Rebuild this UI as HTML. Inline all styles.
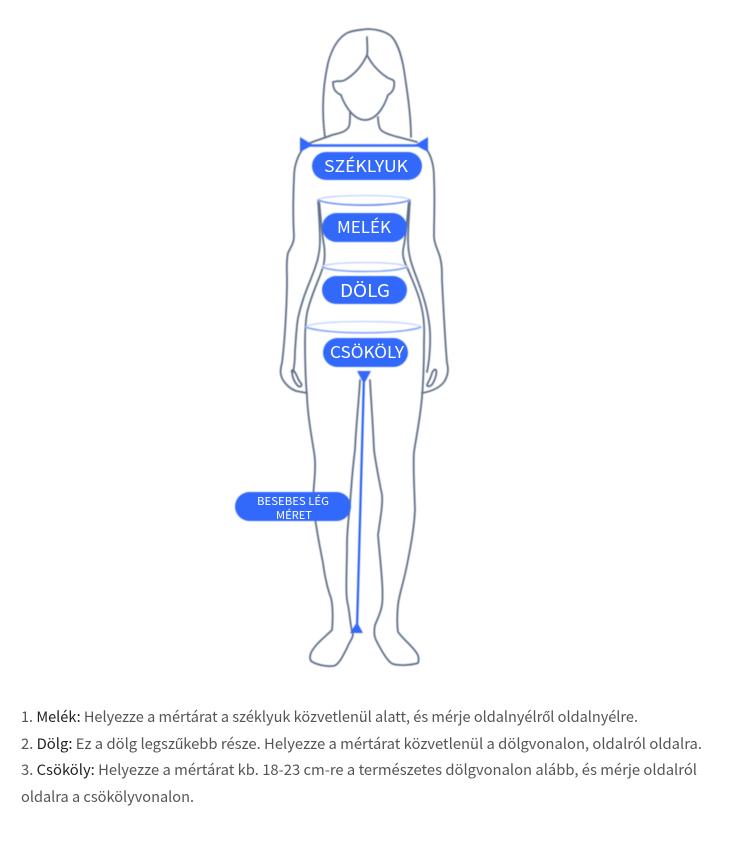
<!DOCTYPE html>
<html><head><meta charset="utf-8"><style>
html,body{margin:0;padding:0;background:#fff;width:734px;height:841px;overflow:hidden}
svg{display:block}
.b{fill:none;stroke:#5f6f88;stroke-width:1.8;stroke-linecap:round;stroke-linejoin:round}
.p{fill:#3269fb}
.l{fill:#fff;font-family:"Noto Sans CJK SC","Liberation Sans",sans-serif;text-anchor:middle}
.t{fill:#555;font-family:"Noto Sans CJK SC","Liberation Sans",sans-serif;font-size:14.5px}
.k{fill:#222}
</style></head><body>
<svg width="734" height="841" viewBox="0 0 734 841" xmlns="http://www.w3.org/2000/svg">
<defs><filter id="s" x="-5%" y="-5%" width="110%" height="110%"><feGaussianBlur stdDeviation="0.45"/></filter></defs>
<g filter="url(#s)">
<path class="b" d="M325 137C322 115 322 90 328 63C332 48 338 38 347 33C353 30 361 30 367 29C375 29 386 31 392 37C398 44 402 58 404 70C407 90 411 115 411 137"/>
<path class="b" d="M367 37C367 44 368 50 367 55C362 66 355 74 345 80C341 82 339 81 338 81L333 82C333 87 334 92 341 95C344 104 350 113 356 117C362 121 368 121 374 117C381 112 385 104 388 95C393 92 395 87 394 81C392 79 390 79 388 78C380 73 372 65 367 55"/>
<path class="b" d="M350 113C350 120 350 126 348 128C345 132 340 133 332 135C325 138 317 140 310 143"/>
<path class="b" d="M378 117C378 122 379 128 381 130C384 133 390 135 398 137L417 142"/>
<path class="b" d="M302 150C298 156 294 165 294 178C293 200 293 220 294 236C294 244 290 248 288 253C286 262 287 270 287 280C287 300 285 340 282 363C280 370 280 375 283 380C286 385 291 389 296 391L307 393"/>
<path class="b" d="M292 372C292 376 294 382 298 386C301 388 303 385 300 382C297 378 296 372 293 370C292 370 291 371 292 372Z"/>
<path class="b" d="M427 150C431 156 434 165 434 178C435 200 434 220 434 236C434 244 438 250 440 257C442 265 442 270 442 280C443 300 445 340 447 363C449 370 448 376 444 382C440 387 434 391 422 393"/>
<path class="b" d="M436 370C437 372 436 378 433 383C431 387 427 387 427 385C428 382 431 378 432 373C433 370 435 369 436 370Z"/>
<path class="b" d="M318 200C319 215 320 230 320 240C320 250 318 260 315 268C311 280 303 295 298 318C296 330 296 340 295 350C295 360 294 368 293 372"/>
<path class="b" d="M410 200C409 215 408 230 408 240C408 250 410 260 413 268C418 282 426 300 429 322C431 335 430 350 429 360C428 365 428 368 427 372"/>
<path class="b" d="M319 200C321 220 322 235 324 245C325 252 325 260 323 267C319 280 311 295 307 313C305 325 305 335 305 343C305 365 306 385 307 397C308 420 312 438 314 452C316 462 315 475 314 485C313 495 313 505 315 518C317 532 320 548 323 563C325 578 328 590 331 598C333 606 333 620 332 630C326 636 318 642 314 648C310 653 309 658 311 661C315 664 325 667 333 666C338 666 343 656 347 648C349 642 352 640 353 635C350 625 350 615 348 605C345 595 347 570 347 545C347 530 349 515 350 505C351 490 353 465 355 450C356 425 359 400 360 380"/>
<path class="b" d="M409 200C407 220 406 235 404 245C402 252 403 260 407 267C412 280 420 295 423 315C425 328 424 335 424 343C424 365 423 385 422 397C420 420 416 438 414 452C413 465 414 480 415 510C414 530 410 550 407 565C403 585 399 595 398 605C397 615 397 625 398 632C404 640 412 646 416 652C419 656 419 660 418 663C412 665 400 666 393 664C388 662 382 652 376 640C374 636 374 630 375 625C378 618 381 612 382 605C384 590 380 560 378 535C380 520 383 505 382 495C379 480 376 465 374 450C373 425 371 400 370 380"/>
<ellipse cx="364" cy="200" rx="46" ry="4.5" fill="none" stroke="#c9d8fd" stroke-width="1.6"/>
<path d="M318 200C335 207 393 207 410 200" fill="none" stroke="#4a78f5" stroke-width="1.2"/>
<ellipse cx="364.500" cy="267" rx="42.500" ry="4.500" fill="none" stroke="#c9d8fd" stroke-width="1.6"/>
<path d="M322 267C340 273 390 273 407 267" fill="none" stroke="#7c9df5" stroke-width="1.2"/>
<ellipse cx="363.500" cy="327" rx="57.500" ry="5.500" fill="none" stroke="#c9d8fd" stroke-width="1.6"/>
<path d="M306 327C330 335 397 335 421 327" fill="none" stroke="#7c9df5" stroke-width="1.2"/>
<line x1="305" y1="145.500" x2="423" y2="145.500" stroke="#3269fb" stroke-width="2.500"/>
<polygon class="p" points="300,137 300,152 313,145"/>
<polygon class="p" points="428,137 428,152 415,145"/>
<line x1="364" y1="376" x2="357" y2="628" stroke="#2a62fb" stroke-width="2.200"/>
<polygon class="p" points="357,371 371,371 364,384"/>
<polygon class="p" points="357,622 350,633 363,633"/>
<rect class="p" x="312" y="152" width="110" height="28" rx="14"/>
<rect class="p" x="322" y="213" width="85" height="29" rx="14.500"/>
<rect class="p" x="322" y="276" width="85" height="28" rx="14"/>
<rect class="p" x="323" y="338" width="85" height="29" rx="14.500"/>
<rect class="p" x="235" y="492" width="116" height="29" rx="14.500"/>
</g>
<text class="l" x="366" y="172" font-size="16" textLength="84" lengthAdjust="spacingAndGlyphs">SZÉKLYUK</text>
<text class="l" x="364" y="233" font-size="16" textLength="54" lengthAdjust="spacingAndGlyphs">MELÉK</text>
<text class="l" x="365" y="297" font-size="18" textLength="50" lengthAdjust="spacingAndGlyphs">DÖLG</text>
<text class="l" x="367" y="358" font-size="16" textLength="74" lengthAdjust="spacingAndGlyphs">CSÖKÖLY</text>
<text class="l" x="293" y="505" font-size="10.500" textLength="72" lengthAdjust="spacingAndGlyphs">BESEBES LÉG</text>
<text class="l" x="294" y="519" font-size="10.500" textLength="36" lengthAdjust="spacingAndGlyphs">MÉRET</text>
<text class="t" x="21" y="722" textLength="617" lengthAdjust="spacingAndGlyphs">1. <tspan class="k">Melék:</tspan> Helyezze a mértárat a széklyuk közvetlenül alatt, és mérje oldalnyélről oldalnyélre.</text>
<text class="t" x="21" y="749" textLength="681" lengthAdjust="spacingAndGlyphs">2. <tspan class="k">Dölg:</tspan> Ez a dölg legszűkebb része. Helyezze a mértárat közvetlenül a dölgvonalon, oldalról oldalra.</text>
<text class="t" x="21" y="775" textLength="676" lengthAdjust="spacingAndGlyphs">3. <tspan class="k">Csököly:</tspan> Helyezze a mértárat kb. 18-23 cm-re a természetes dölgvonalon alább, és mérje oldalról</text>
<text class="t" x="21" y="802" textLength="173" lengthAdjust="spacingAndGlyphs">oldalra a csökölyvonalon.</text>
</svg>
</body></html>
